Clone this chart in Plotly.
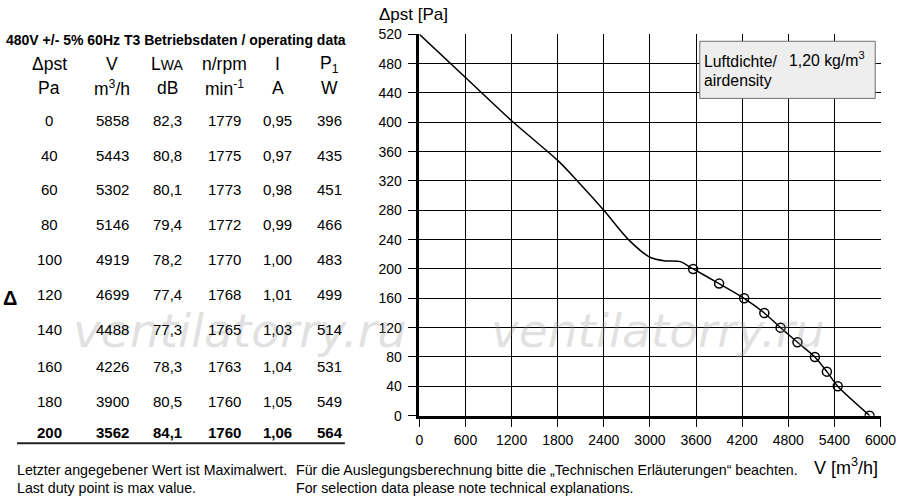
import plotly.graph_objects as go

# ---- data ----
dp_pa = [0, 40, 60, 80, 100, 120, 140, 160, 180, 200]
flow_m3h = [5858, 5443, 5302, 5146, 4919, 4699, 4488, 4226, 3900, 3562]
lwa_db = ["82,3", "80,8", "80,1", "79,4", "78,2", "77,4", "77,3", "78,3", "80,5", "84,1"]
rpm = [1779, 1775, 1773, 1772, 1770, 1768, 1765, 1763, 1760, 1760]
current_a = ["0,95", "0,97", "0,98", "0,99", "1,00", "1,01", "1,03", "1,04", "1,05", "1,06"]
power_w = [396, 435, 451, 466, 483, 499, 514, 531, 549, 564]

# upper (unstable) part of fan curve
curve_v_upper = [0, 600, 1200, 1800, 2056, 2400, 2721, 3000, 3200, 3395]
curve_p_upper = [520, 461, 402, 348, 320, 280, 240, 216, 211, 210]

x_ticks = [0, 600, 1200, 1800, 2400, 3000, 3600, 4200, 4800, 5400, 6000]
y_ticks = list(range(0, 521, 40))

FONT = "Liberation Sans, Arial, Helvetica, sans-serif"
W, H = 930, 520

# screen position (in the 900x500 picture) -> page position
SX, CX = 0.976, 7.0
SY, CY = 0.967, 7.8


def px(x):
    return ((x - CX) / SX) / W


def py(y):
    return 1 - ((y - CY) / SY) / H


# full curve = upper part + operating points (sorted by flow)
pts = sorted(zip(flow_m3h, dp_pa))
curve_v = curve_v_upper + [p[0] for p in pts]
curve_p = curve_p_upper + [p[1] for p in pts]

fig = go.Figure()
fig.add_trace(go.Scatter(
    x=curve_v, y=curve_p, mode="lines",
    line=dict(color="black", width=1.5, shape="spline", smoothing=0.7),
    hoverinfo="skip", showlegend=False,
))
fig.add_trace(go.Scatter(
    x=flow_m3h, y=dp_pa, mode="markers",
    marker=dict(symbol="circle-open", size=9, color="black", line=dict(width=1.5)),
    showlegend=False,
))

ann = []

# watermarks first so everything else is drawn over them
for wx in [242, 659]:
    ann.append(dict(x=px(wx), y=py(330), text="ventilatorry.ru", xanchor="center", yanchor="middle",
                    font=dict(size=47, color="rgba(150,150,150,0.3)", family="DejaVu Sans",
                              style="italic", weight=200)))

# axis titles
ann.append(dict(x=px(379), y=py(14), text="Δpst [Pa]", xanchor="left", yanchor="middle",
                font=dict(size=17, color="black", family=FONT)))
ann.append(dict(x=px(881), y=py(465), text="V [m<sup>3</sup>/h]", xanchor="right", yanchor="middle",
                font=dict(size=18, color="black", family=FONT)))

# air density box text
ann.append(dict(x=px(703), y=py(61), text="Luftdichte/", xanchor="left", yanchor="middle",
                font=dict(size=15.8, color="black", family=FONT)))
ann.append(dict(x=px(788), y=py(59), text="1,20 kg/m<sup>3</sup>", xanchor="left", yanchor="middle",
                font=dict(size=15.8, color="black", family=FONT)))
ann.append(dict(x=px(703), y=py(80), text="airdensity", xanchor="left", yanchor="middle",
                font=dict(size=15.8, color="black", family=FONT)))

# table title
ann.append(dict(x=px(7), y=py(40),
                text="<b>480V +/- 5% 60Hz T3 Betriebsdaten / operating data</b>",
                xanchor="left", yanchor="middle",
                font=dict(size=14, color="black", family=FONT)))

col_x = [52, 115, 170, 227, 280, 332]
head1 = ["Δpst", "V", "L<span style='font-size:14px'>WA</span>", "n/rpm", "I", "P<sub>1</sub>"]
head2 = ["Pa", "m<sup>3</sup>/h", "dB", "min<sup>-1</sup>", "A", "W"]
for cx, h1, h2 in zip(col_x, head1, head2):
    ann.append(dict(x=px(cx), y=py(64), text=h1, xanchor="center", yanchor="middle",
                    font=dict(size=17.5, color="black", family=FONT)))
    ann.append(dict(x=px(cx), y=py(88), text=h2, xanchor="center", yanchor="middle",
                    font=dict(size=17.5, color="black", family=FONT)))

row_y = [120, 155, 189, 224, 259, 294, 329, 365, 400, 431]
for i, ry in enumerate(row_y):
    vals = [dp_pa[i], flow_m3h[i], lwa_db[i], rpm[i], current_a[i], power_w[i]]
    last = i == len(row_y) - 1
    for cx, v in zip(col_x, vals):
        t = f"<b>{v}</b>" if last else str(v)
        ann.append(dict(x=px(cx), y=py(ry), text=t, xanchor="center", yanchor="middle",
                        font=dict(size=15, color="black", family=FONT)))

# stray delta symbol
ann.append(dict(x=px(13), y=py(297), text="<b>Δ</b>", xanchor="center", yanchor="middle",
                font=dict(size=20, color="black", family=FONT)))

# footer
foot = [
    (18, 469, "Letzter angegebener Wert ist Maximalwert."),
    (296, 469, "Für die Auslegungsberechnung bitte die „Technischen Erläuterungen“ beachten."),
    (18, 487, "Last duty point is max value."),
    (296, 487, "For selection data please note technical explanations."),
]
for fx, fy, t in foot:
    ann.append(dict(x=px(fx), y=py(fy), text=t, xanchor="left", yanchor="middle",
                    font=dict(size=14.2, color="black", family=FONT)))

for a in ann:
    a.update(xref="paper", yref="paper", showarrow=False)

shapes = [
    dict(type="rect", xref="paper", yref="paper", x0=px(701), x1=px(876), y0=py(98), y1=py(41),
         fillcolor="#eeeeee", line=dict(color="#707070", width=1), layer="above"),
    dict(type="line", xref="paper", yref="paper", x0=px(20), x1=px(347), y0=py(442), y1=py(442),
         line=dict(color="#222", width=2)),
]

fig.update_layout(
    width=W, height=H,
    margin=dict(l=0, r=0, t=0, b=0),
    paper_bgcolor="white", plot_bgcolor="white",
    font=dict(family=FONT, color="black"),
    annotations=ann,
    shapes=shapes,
    xaxis=dict(domain=[px(421.3), px(881.3)], range=[0, 6000], tickvals=x_ticks,
               showgrid=True, gridcolor="black", gridwidth=1,
               showline=True, linecolor="black", linewidth=2.5,
               ticks="outside", ticklen=9, tickcolor="black", tickwidth=1,
               ticklabelstandoff=1,
               tickfont=dict(size=14, family=FONT, color="black"),
               zeroline=False, fixedrange=True),
    yaxis=dict(domain=[py(414.5), py(34)], range=[0, 520], tickvals=y_ticks,
               showgrid=True, gridcolor="black", gridwidth=1,
               showline=True, linecolor="black", linewidth=2.5,
               ticks="outside", ticklen=9, tickcolor="black", tickwidth=1,
               ticklabelstandoff=3,
               tickfont=dict(size=14, family=FONT, color="black"),
               zeroline=False, fixedrange=True),
)

fig.write_html("out.html",
               config={"displayModeBar": False},
               post_script="document.body.style.margin='0';document.body.style.overflow='hidden';")
